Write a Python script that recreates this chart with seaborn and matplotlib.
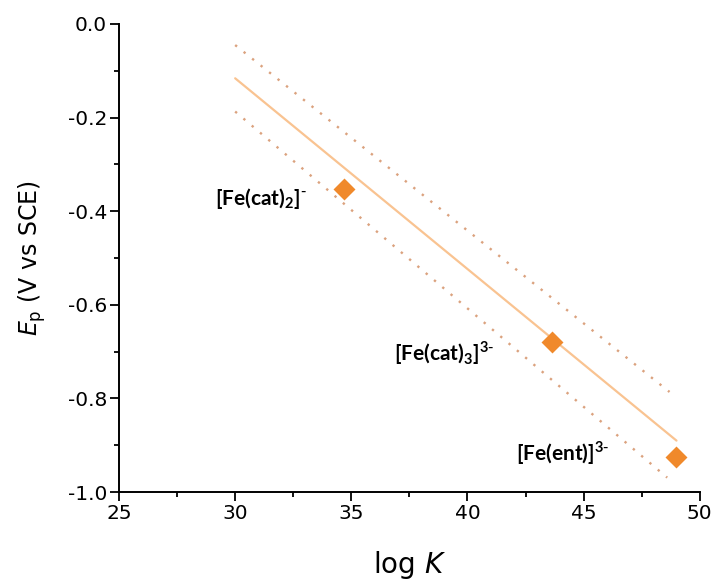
import numpy as np
import pandas as pd
import seaborn as sns
import matplotlib
matplotlib.use('Agg')
import matplotlib.pyplot as plt
from matplotlib.ticker import MultipleLocator, FormatStrFormatter

# pontos medidos
log_k = [34.68, 43.66, 48.97]
ep = [-0.353, -0.680, -0.925]
rotulos = [r'[Fe(cat)$_\mathbf{2}$]$^{\text{-}}$',
           r'[Fe(cat)$_\mathbf{3}$]$^{\mathbf{3}\text{-}}$',
           r'[Fe(ent)]$^{\mathbf{3}\text{-}}$']
# deslocamento do rótulo (px) em relação ao ponto
desloc = [(-37, -9), (-58, -11), (-66, 4)]

# reta de ajuste e bandas
fit_x = [30.0, 49.0]
fit_y = [-0.116, -0.890]
sup_x = [30.0, 48.7]
sup_y = [-0.045, -0.786]
inf_x = [30.0, 48.6]
inf_y = [-0.187, -0.969]

sns.set_style('ticks')
plt.rcParams['font.family'] = ['DejaVu Sans']
plt.rcParams['mathtext.fontset'] = 'custom'
plt.rcParams['mathtext.rm'] = 'DejaVu Sans'
plt.rcParams['mathtext.it'] = 'DejaVu Sans:italic'
plt.rcParams['mathtext.bf'] = 'Lato:bold'
for k in ['text.color', 'axes.labelcolor', 'xtick.color', 'ytick.color', 'axes.edgecolor']:
    plt.rcParams[k] = 'black'

cor_ponto = '#F0892B'
cor_reta = '#F9C391'
cor_banda = '#DBA27E'

fig = plt.figure(figsize=(7.14, 5.81), dpi=100)
ax = fig.add_axes([0.1667, 0.153, 0.8133, 0.8057])

dados = pd.DataFrame({'logK': log_k, 'Ep': ep})
sns.lineplot(x=fit_x, y=fit_y, color=cor_reta, lw=1.6, ax=ax)
sns.lineplot(x=sup_x, y=sup_y, color=cor_banda, lw=1.7, ls=(0, (1, 3.6)), ax=ax)
sns.lineplot(x=inf_x, y=inf_y, color=cor_banda, lw=1.7, ls=(0, (1, 3.6)), ax=ax)
sns.scatterplot(data=dados, x='logK', y='Ep', marker='D', s=125, color=cor_ponto,
                edgecolor=cor_ponto, linewidth=0, zorder=5, ax=ax, clip_on=False)

for xi, yi, txt, (dx, dy) in zip(log_k, ep, rotulos, desloc):
    ax.annotate(txt, (xi, yi), xytext=(dx * 0.72, dy * 0.72), textcoords='offset points',
                ha='right', va='center', fontsize=15, fontweight='bold', family='Lato')

ax.set_xlim(25, 50)
ax.set_ylim(-1.0, 0.0)
ax.xaxis.set_major_locator(MultipleLocator(5))
ax.xaxis.set_minor_locator(MultipleLocator(2.5))
ax.yaxis.set_major_locator(MultipleLocator(0.2))
ax.yaxis.set_minor_locator(MultipleLocator(0.1))
ax.yaxis.set_major_formatter(FormatStrFormatter('%.1f'))
ax.tick_params(which='major', direction='out', length=6.5, width=1.3, labelsize=14.5, pad=2)
ax.tick_params(which='minor', direction='out', length=3.3, width=1.3)
for s in ['top', 'right']:
    ax.spines[s].set_visible(False)
for s in ['left', 'bottom']:
    ax.spines[s].set_linewidth(1.4)

ax.set_xlabel(r'log $K$', fontsize=20, labelpad=19)
ax.set_ylabel(r'$E_\mathrm{p}$ (V vs SCE)', fontsize=17, labelpad=14)

fig.savefig('out.png', dpi=100)
